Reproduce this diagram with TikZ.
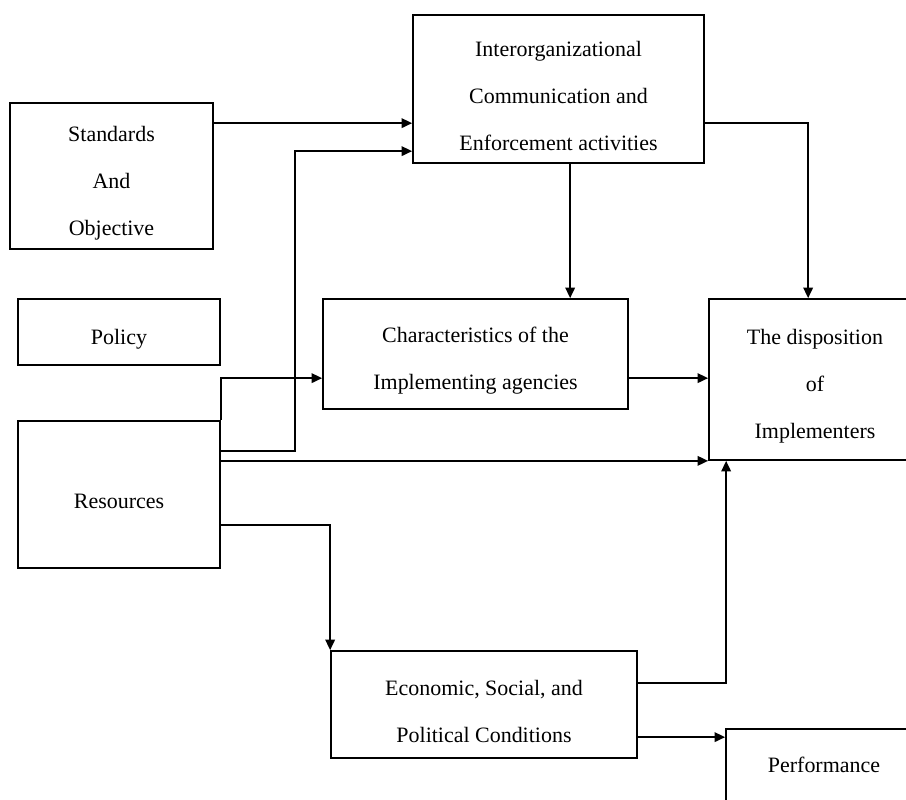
\documentclass[tikz,border=0pt]{standalone}
\usepackage{fontspec}
\setmainfont{Liberation Serif}
\usetikzlibrary{arrows.meta,calc}
\tikzset{blk/.style={draw, line width=1pt, inner sep=0pt, align=center, font=\fontsize{12.5}{26.7}\selectfont}}
\tikzset{arr/.style={line width=1pt, -{Triangle[length=2.1mm,width=1.9mm]}}}
\newcommand{\tdown}{\rule{0pt}{16.5pt}}

\begin{document}
\begin{tikzpicture}[x=0.02cm,y=-0.02cm]
\useasboundingbox (0,0) rectangle (906,799);
\clip (0,0) rectangle (906,799);
\node[blk, minimum width=5.82cm, minimum height=2.96cm] (inter) at (558.5,89) {\tdown Interorganizational\\Communication and\\Enforcement activities};
\node[blk, minimum width=4.06cm, minimum height=2.92cm] (std) at (111.5,176) {\tdown Standards\\And\\Objective};
\node[blk, minimum width=4.04cm, minimum height=1.32cm] (pol) at (119,332) {\tdown Policy};
\node[blk, minimum width=6.10cm, minimum height=2.20cm] (char) at (475.5,354) {\tdown Characteristics of the\\Implementing agencies};
\node[blk, minimum width=4.24cm, minimum height=3.22cm] (disp) at (815,379.5) {\tdown The disposition\\of\\Implementers};
\node[blk, minimum width=4.04cm, minimum height=2.94cm] (res) at (119,494.5) {\tdown Resources};
\node[blk, minimum width=6.12cm, minimum height=2.14cm] (eco) at (484,704.5) {\tdown Economic, Social, and\\Political Conditions};
\node[blk, minimum width=3.92cm, minimum height=1.44cm] (perf) at (824,765) {Performance};

\draw[arr] ($(std.north east)+(0,21)$) coordinate (s1) -- (s1 -| inter.west);
\draw[arr] ($(res.north east)+(0,31)$) -- ++(74,0) |- ($(inter.north west)+(0,137)$);
\draw[arr] (res.north east) |- ($(char.north west)+(0,80)$);
\draw[arr] ($(inter.south west)+(158,0)$) coordinate (i1) -- (i1 |- char.north);
\draw[arr] ($(inter.north east)+(0,109)$) -| ($(disp.north west)+(100,0)$);
\draw[arr] ($(char.north east)+(0,80)$) coordinate (c1) -- (c1 -| disp.west);
\draw[arr] (res.east |- disp.south) -- (disp.south west);
\draw[arr] ($(res.north east)+(0,105)$) -| (eco.north west);
\draw[arr] ($(eco.north east)+(0,33)$) -| ($(disp.south west)+(18,0)$);
\draw[arr] ($(eco.north east)+(0,87)$) coordinate (e1) -- (e1 -| perf.west);
\end{tikzpicture}
\end{document}
